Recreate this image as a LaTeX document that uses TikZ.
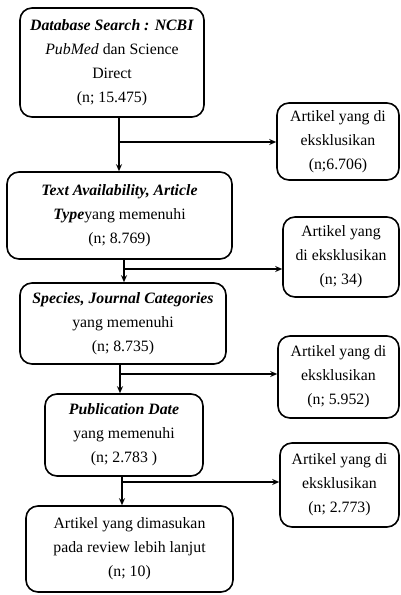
\documentclass[tikz,border=0pt]{standalone}
\usepackage{fontspec}
\setmainfont{Liberation Serif}
\usetikzlibrary{arrows.meta}
\begin{document}
\begin{tikzpicture}[x=1pt,y=-1pt,
  box/.style={draw=black,line width=1.6pt,rounded corners=12pt,align=center,inner sep=0pt,
    font=\fontsize{15.8}{24}\selectfont},
  arr/.style={line width=1.1pt,-{Stealth[length=7pt,width=6pt]}},
  ln/.style={line width=1.1pt}]
\useasboundingbox (0,0) rectangle (401,595);
\node[box,minimum width=184pt,minimum height=109pt] (b1) at (112,62.5)
  {\textbf{\textit{Database Search : NCBI}}\\\textit{PubMed} dan Science\\Direct\\(n; 15.475)};
\node[box,minimum width=122pt,minimum height=77pt] (e1) at (338,141.5)
  {Artikel yang di\\eksklusikan\\(n;6.706)};
\node[box,minimum width=225pt,minimum height=87pt] (b2) at (119.5,215.5)
  {\textbf{\textit{Text Availability, Article}}\\\textbf{\textit{Type}}yang memenuhi\\(n; 8.769)};
\node[box,minimum width=116pt,minimum height=80pt] (e2) at (341,257)
  {Artikel yang\\di eksklusikan\\(n; 34)};
\node[box,minimum width=206pt,minimum height=81pt] (b3) at (123,323.5)
  {\textbf{\textit{Species, Journal Categories}}\\yang memenuhi\\(n; 8.735)};
\node[box,minimum width=121pt,minimum height=82pt] (e3) at (338.5,377)
  {Artikel yang di\\eksklusikan\\(n; 5.952)};
\node[box,minimum width=158pt,minimum height=82pt] (b4) at (124,435)
  {\textbf{\textit{Publication Date}}\\yang memenuhi\\(n; 2.783 )};
\node[box,minimum width=119pt,minimum height=84pt] (e4) at (339.5,485)
  {Artikel yang di\\eksklusikan\\(n; 2.773)};
\node[box,minimum width=207pt,minimum height=86pt] (b5) at (129.5,549)
  {Artikel yang dimasukan\\pada review lebih lanjut\\(n; 10)};
\coordinate (j1) at (119,142);
\coordinate (j2) at (124,269);
\coordinate (j3) at (120,374);
\coordinate (j4) at (122,482);
\draw[arr] (b1.south -| j1) -- (b2.north -| j1);
\draw[arr] (j1) -- (j1 -| e1.west);
\draw[arr] (b2.south -| j2) -- (b3.north -| j2);
\draw[arr] (j2) -- (j2 -| e2.west);
\draw[arr] (b3.south -| j3) -- (b4.north -| j3);
\draw[arr] (j3) -- (j3 -| e3.west);
\draw[arr] (b4.south -| j4) -- (b5.north -| j4);
\draw[arr] (j4) -- (j4 -| e4.west);
\end{tikzpicture}
\end{document}
